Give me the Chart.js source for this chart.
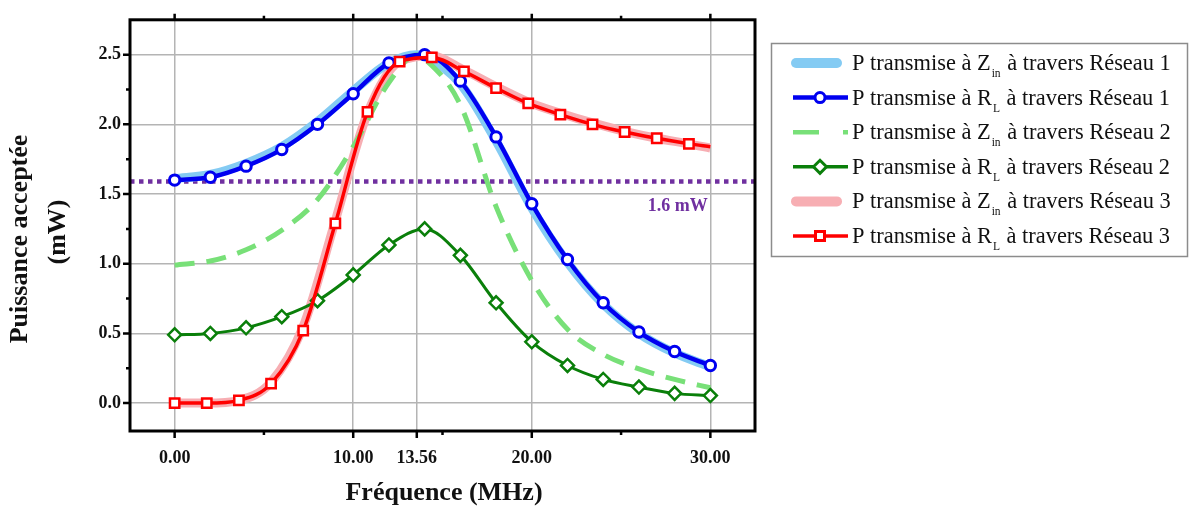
<!DOCTYPE html>
<html>
<head>
<meta charset="utf-8">
<script src="https://cdn.jsdelivr.net/npm/chart.js@4.4.1/dist/chart.umd.min.js"></script>
<style>
  html, body { margin: 0; padding: 0; background: #fff; }
  #wrap { width: 1190px; height: 511px; }
</style>
</head>
<body>
<div id="wrap"><canvas id="lienzo" width="1190" height="511"></canvas></div>
<script>
// ---- données ----
const xAxisTicks = [0, 10, 13.56, 20, 30];
const xMinorTicks = [5, 15, 25];
const yAxisTicks = [0, 0.5, 1, 1.5, 2, 2.5];
const yMinorTicks = [0.25, 0.75, 1.25, 1.75, 2.25];

// fréquences (MHz)
const freqRL = [0, 2, 4, 6, 8, 10, 12, 14, 16, 18, 20, 22, 24, 26, 28, 30];
const freqZin = [0, 2, 4, 6, 8, 10, 12, 13.56, 14, 16, 18, 20, 22, 24, 26, 28, 30];
const freqRes3 = [0, 1.8, 3.6, 5.4, 7.2, 9, 10.8, 12.6, 14.4, 16.2, 18, 19.8, 21.6, 23.4, 25.2, 27, 28.8, 30];

// Réseau 1
const zinRes1 = [1.61, 1.64, 1.72, 1.84, 2.02, 2.24, 2.44, 2.50, 2.49, 2.29, 1.88, 1.40, 1.01, 0.71, 0.50, 0.36, 0.26];
const rlRes1 = [1.60, 1.62, 1.70, 1.82, 2.00, 2.22, 2.44, 2.50, 2.31, 1.91, 1.43, 1.03, 0.72, 0.51, 0.37, 0.27];
// Réseau 2
const zinRes2 = [0.99, 1.02, 1.10, 1.24, 1.46, 1.84, 2.30, 2.50, 2.47, 2.14, 1.41, 0.88, 0.53, 0.35, 0.245, 0.17, 0.11];
const rlRes2 = [0.49, 0.50, 0.54, 0.62, 0.735, 0.92, 1.135, 1.25, 1.06, 0.72, 0.44, 0.27, 0.17, 0.115, 0.07, 0.054];
// Réseau 3
const zinRes3 = [0, 0, 0.02, 0.15, 0.55, 1.31, 2.08, 2.45, 2.49, 2.39, 2.27, 2.16, 2.08, 2.01, 1.95, 1.90, 1.86, 1.83];
const rlRes3 = [0, 0, 0.02, 0.14, 0.52, 1.29, 2.09, 2.45, 2.48, 2.38, 2.26, 2.15, 2.07, 2.00, 1.945, 1.90, 1.86, 1.84];

// seuil 1.6 mW
const seuilX = [-2.5, 32.5];
const seuilY = [1.59, 1.59];
const seuilLabel = '1.6 mW';

const SERIF = '"Liberation Serif", "Times New Roman", serif';
const BLEU_CLAIR = '#84CBF3';
const BLEU = '#0000F0';
const VERT_CLAIR = '#78E078';
const VERT = '#0A7F0A';
const ROSE = '#F7AEB3';
const ROUGE = '#FF0000';
const VIOLET = '#7030A0';

function pts(xs, ys) {
	return xs.map((x, i) => ({ x: x, y: ys[i] }));
}

const legendItems = [
	{ main: 'P transmise à Z', sub: 'in', rest: ' à travers Réseau 1', kind: 'halo', color: BLEU_CLAIR },
	{ main: 'P transmise à R', sub: 'L', rest: ' à travers Réseau 1', kind: 'circle', color: BLEU },
	{ main: 'P transmise à Z', sub: 'in', rest: ' à travers Réseau 2', kind: 'dash', color: VERT_CLAIR },
	{ main: 'P transmise à R', sub: 'L', rest: ' à travers Réseau 2', kind: 'diamond', color: VERT },
	{ main: 'P transmise à Z', sub: 'in', rest: ' à travers Réseau 3', kind: 'halo', color: ROSE },
	{ main: 'P transmise à R', sub: 'L', rest: ' à travers Réseau 3', kind: 'square', color: ROUGE },
];

// cadre noir, graduations, titres d'axes, étiquette du seuil
const cadre = {
	id: 'cadre',
	afterDraw(chart) {
		const c = chart.ctx, a = chart.chartArea;
		const sx = chart.scales.x, sy = chart.scales.y;
		c.save();
		c.strokeStyle = '#000';
		c.lineWidth = 2.5;
		c.beginPath();
		xAxisTicks.forEach(v => {
			const p = sx.getPixelForValue(v);
			c.moveTo(p, a.bottom); c.lineTo(p, a.bottom + 7);
			c.moveTo(p, a.top); c.lineTo(p, a.top - 6);
		});
		xMinorTicks.forEach(v => {
			const p = sx.getPixelForValue(v);
			c.moveTo(p, a.bottom); c.lineTo(p, a.bottom + 4);
			c.moveTo(p, a.top); c.lineTo(p, a.top - 4);
		});
		yAxisTicks.forEach(v => {
			const p = sy.getPixelForValue(v);
			c.moveTo(a.left, p); c.lineTo(a.left - 7, p);
		});
		yMinorTicks.forEach(v => {
			const p = sy.getPixelForValue(v);
			c.moveTo(a.left, p); c.lineTo(a.left - 4, p);
		});
		c.stroke();
		c.lineWidth = 3;
		c.strokeRect(a.left, a.top, a.right - a.left, a.bottom - a.top);

		// titres
		c.fillStyle = '#111';
		c.font = 'bold 26px ' + SERIF;
		c.textAlign = 'center';
		c.textBaseline = 'alphabetic';
		c.fillText('Fréquence (MHz)', 444, 500);
		c.save();
		c.translate(27, 239);
		c.rotate(-Math.PI / 2);
		c.fillText('Puissance acceptée', 0, 0);
		c.restore();
		c.save();
		c.translate(65, 232);
		c.rotate(-Math.PI / 2);
		c.fillText('(mW)', 0, 0);
		c.restore();

		// étiquette 1.6 mW
		c.fillStyle = VIOLET;
		c.font = 'bold 18px ' + SERIF;
		c.textAlign = 'right';
		c.fillText(seuilLabel, sx.getPixelForValue(29.85), sy.getPixelForValue(1.38));
		c.restore();
	}
};

const legende = {
	id: 'legende',
	afterDraw(chart) {
		const c = chart.ctx;
		c.save();
		c.strokeStyle = '#8c8c8c';
		c.lineWidth = 1.5;
		c.strokeRect(771.5, 43.5, 416, 213);
		legendItems.forEach((it, i) => {
			const base = 70 + i * 34.6, ly = base - 7;
			c.setLineDash([]);
			c.strokeStyle = it.color;
			if (it.kind === 'halo') {
				c.lineWidth = 10; c.lineCap = 'round';
				c.beginPath(); c.moveTo(796, ly); c.lineTo(837, ly); c.stroke();
			} else if (it.kind === 'dash') {
				c.lineWidth = 4.5; c.lineCap = 'butt';
				c.setLineDash([26, 24]);
				c.beginPath(); c.moveTo(793, ly); c.lineTo(848, ly); c.stroke();
				c.setLineDash([]);
			} else {
				c.lineWidth = it.kind === 'circle' ? 4.5 : 3.5; c.lineCap = 'butt';
				c.beginPath(); c.moveTo(793, ly); c.lineTo(848, ly); c.stroke();
				c.fillStyle = '#fff';
				c.lineWidth = 3;
				c.beginPath();
				if (it.kind === 'circle') c.arc(820, ly, 5, 0, Math.PI * 2);
				else if (it.kind === 'diamond') { c.moveTo(813.5, ly); c.lineTo(820, ly - 6.5); c.lineTo(826.5, ly); c.lineTo(820, ly + 6.5); c.closePath(); }
				else c.rect(815.5, ly - 4.5, 9, 9);
				c.fill(); c.stroke();
			}
			c.fillStyle = '#111';
			c.textAlign = 'left';
			c.textBaseline = 'alphabetic';
			c.font = '22.4px ' + SERIF;
			let x = 852;
			c.fillText(it.main, x, base);
			x += c.measureText(it.main).width;
			c.font = '11.5px ' + SERIF;
			c.fillText(it.sub, x + 1, base + 7);
			x += c.measureText(it.sub).width + 2;
			c.font = '22.4px ' + SERIF;
			c.fillText(it.rest, x, base);
		});
		c.restore();
	}
};

const lienzo = document.getElementById('lienzo');
const courbe = (opts) => Object.assign({
	fill: false,
	cubicInterpolationMode: 'monotone',
	pointRadius: 0,
	pointHoverRadius: 0,
	pointBackgroundColor: '#fff',
}, opts);

const chart = new Chart(lienzo, {
	type: 'line',
	data: {
		datasets: [
			courbe({ label: 'seuil', data: pts(seuilX, seuilY), borderColor: VIOLET, borderWidth: 4.5, borderDash: [4.5, 4.5], order: 7, cubicInterpolationMode: 'default' }),
			courbe({ label: 'Zin R3', data: pts(freqRes3, zinRes3), borderColor: ROSE, borderWidth: 9, order: 6 }),
			courbe({ label: 'Zin R1', data: pts(freqZin, zinRes1), borderColor: BLEU_CLAIR, borderWidth: 9, order: 5 }),
			courbe({ label: 'Zin R2', data: pts(freqZin, zinRes2), borderColor: VERT_CLAIR, borderWidth: 5, borderDash: [20, 12], order: 4 }),
			courbe({ label: 'RL R1', data: pts(freqRL, rlRes1), borderColor: BLEU, borderWidth: 4.5, order: 3,
				pointRadius: 5.2, pointBorderWidth: 3, pointBorderColor: BLEU, pointStyle: 'circle' }),
			courbe({ label: 'RL R2', data: pts(freqRL, rlRes2), borderColor: VERT, borderWidth: 3, order: 2,
				pointRadius: 6.5, pointBorderWidth: 2.5, pointBorderColor: VERT, pointStyle: 'rectRot' }),
			courbe({ label: 'RL R3', data: pts(freqRes3, rlRes3), borderColor: ROUGE, borderWidth: 3.5, order: 1,
				pointRadius: freqRes3.map(f => f === 30 ? 0 : 6.6), pointBorderWidth: 2.5, pointBorderColor: ROUGE, pointStyle: 'rect' }),
		]
	},
	options: {
		responsive: false,
		animation: false,
		devicePixelRatio: 1,
		layout: { padding: { top: 10, right: 435, left: 0, bottom: 0 } },
		plugins: { legend: { display: false }, tooltip: { enabled: false } },
		scales: {
			x: {
				type: 'linear',
				min: -2.5,
				max: 32.5,
				afterBuildTicks: s => { s.ticks = xAxisTicks.map(v => ({ value: v })); },
				afterFit: s => { s.height = 80; },
				ticks: {
					callback: v => Number(v).toFixed(2),
					font: { family: SERIF, size: 18, weight: 'bold' },
					color: '#111',
					padding: 17,
					maxRotation: 0,
					autoSkip: false,
				},
				grid: { color: '#b4b4b4', lineWidth: 1.5, drawTicks: false },
				border: { display: false },
			},
			y: {
				min: -0.2,
				max: 2.75,
				afterBuildTicks: s => { s.ticks = yAxisTicks.map(v => ({ value: v })); },
				afterFit: s => { s.width = 130; },
				ticks: {
					callback: v => Number(v).toFixed(1),
					font: { family: SERIF, size: 18, weight: 'bold' },
					color: '#111',
					padding: 9,
				},
				grid: { color: '#b4b4b4', lineWidth: 1.5, drawTicks: false },
				border: { display: false },
			}
		}
	},
	plugins: [cadre, legende]
});
</script>
</body>
</html>
